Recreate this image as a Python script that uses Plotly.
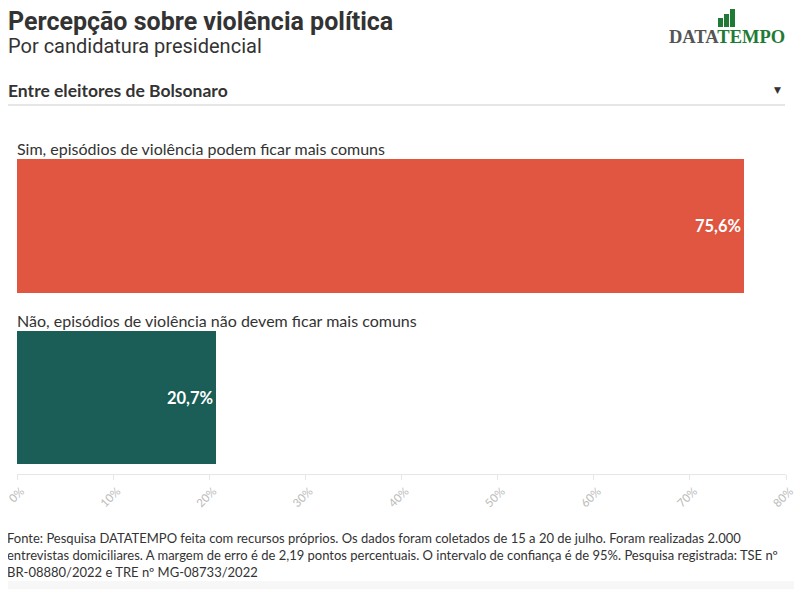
import plotly.graph_objects as go

# Data
categories = ["Sim, episódios de violência podem ficar mais comuns",
              "Não, episódios de violência não devem ficar mais comuns"]
values = [75.6, 20.7]
value_labels = ["75,6%", "20,7%"]
bar_colors = ["#E05640", "#1B5E57"]
tick_vals = [0, 10, 20, 30, 40, 50, 60, 70, 80]
tick_text = ["0%", "10%", "20%", "30%", "40%", "50%", "60%", "70%", "80%"]

# page body has an 8px margin, so the figure is sized to fit inside it
OFF = 8
W, H = 802 - 2 * OFF, 597 - 2 * OFF
L, T = 9, 122
PW, PH = 769, 344

body_font = "Lato, 'Open Sans', sans-serif"
title_font = "Roboto, sans-serif"


def px_x(p):
    # screen pixel -> paper x
    return (p - OFF - L) / PW


def px_y(p):
    # screen pixel -> paper y
    return 1 - (p - OFF - T) / PH


positions = list(range(len(categories)))
bar_width = 0.78

fig = go.Figure()
for pos, val, lab, col in zip(positions, values, value_labels, bar_colors):
    fig.add_trace(go.Bar(
        x=[val], y=[pos], orientation="h", width=bar_width,
        marker=dict(color=col, line=dict(width=0)),
        text=["<b>%s</b>" % lab], textposition="inside", insidetextanchor="end",
        textfont=dict(family=body_font, size=16.5, color="white",
                      shadow="1px 1px 1px %s, -1px -1px 1px %s, 1px -1px 1px %s, -1px 1px 1px %s" % (col, col, col, col)),
        hoverinfo="skip", showlegend=False,
    ))

# category labels above each bar
for pos, cat in zip(positions, categories):
    fig.add_annotation(x=0, y=pos - bar_width / 2, xref="x", yref="y",
                       text=cat, showarrow=False, xanchor="left", yanchor="bottom",
                       xshift=-2, yshift=-1,
                       font=dict(family=body_font, size=16, color="#333333"))

# header
fig.add_annotation(x=px_x(6), y=px_y(21), xref="paper", yref="paper",
                   text="<b>Percepção sobre violência política</b>", showarrow=False,
                   xanchor="left", yanchor="middle",
                   font=dict(family=title_font, size=25, color="#333333"))
fig.add_annotation(x=px_x(6), y=px_y(46), xref="paper", yref="paper",
                   text="Por candidatura presidencial", showarrow=False,
                   xanchor="left", yanchor="middle",
                   font=dict(family=title_font, size=20, color="#333333"))

# dropdown look-alike
fig.add_annotation(x=px_x(6), y=px_y(90), xref="paper", yref="paper",
                   text="<b>Entre eleitores de Bolsonaro</b>", showarrow=False,
                   xanchor="left", yanchor="middle",
                   font=dict(family=body_font, size=17.5, color="#333333"))
fig.add_annotation(x=px_x(777), y=px_y(90), xref="paper", yref="paper",
                   text="▼", showarrow=False, xanchor="center", yanchor="middle",
                   font=dict(family="DejaVu Sans", size=9, color="#333333"))
fig.add_shape(type="line", xref="paper", yref="paper",
              x0=px_x(7), x1=px_x(785), y0=px_y(105), y1=px_y(105),
              line=dict(color="#cccccc", width=1))

# logo
fig.add_annotation(x=px_x(727), y=px_y(37), xref="paper", yref="paper",
                   text="<span style='color:#555555'>DATA</span><span style='color:#1f7a35'>TEMPO</span>",
                   showarrow=False, xanchor="center", yanchor="middle",
                   font=dict(family="'Liberation Serif', serif", size=18.5, weight="bold"))
for x0, top in [(718, 18), (724, 14), (730, 9)]:
    fig.add_shape(type="rect", xref="paper", yref="paper",
                  x0=px_x(x0), x1=px_x(x0 + 5), y0=px_y(27), y1=px_y(top),
                  fillcolor="#1f7a35", line=dict(width=0))

# footer
fig.add_shape(type="rect", xref="paper", yref="paper", layer="below",
              x0=px_x(0), x1=px_x(802), y0=px_y(597), y1=px_y(581),
              fillcolor="#f7f7f7", line=dict(width=0))
footer_lines = [
    "Fonte: Pesquisa DATATEMPO feita com recursos próprios. Os dados foram coletados de 15 a 20 de julho. Foram realizadas 2.000",
    "entrevistas domiciliares. A margem de erro é de 2,19 pontos percentuais. O intervalo de confiança é de 95%. Pesquisa registrada: TSE nº",
    "BR-08880/2022 e TRE nº MG-08733/2022",
]
for i, line in enumerate(footer_lines):
    fig.add_annotation(x=px_x(5), y=px_y(538 + 17 * i), xref="paper", yref="paper",
                       text=line, showarrow=False, xanchor="left", yanchor="middle",
                       font=dict(family=body_font, size=13, color="#333333"))

fig.update_layout(
    width=W, height=H,
    margin=dict(l=L, r=W - L - PW, t=T, b=H - T - PH),
    paper_bgcolor="white", plot_bgcolor="white",
    bargap=0,
    xaxis=dict(range=[0, 80], tickvals=tick_vals, ticktext=tick_text,
               tickangle=-45, showgrid=False, zeroline=False, automargin=False,
               ticklabeloverflow="allow", ticklabelshift=4,
               showline=True, linecolor="#e6e6e6", linewidth=1,
               ticks="outside", ticklen=5, tickcolor="#e6e6e6",
               tickfont=dict(family=body_font, size=11.5, color="#bbbbbb")),
    yaxis=dict(range=[1.446, -0.56], visible=False, fixedrange=True, automargin=False),
)

fig.write_html("out.html")
